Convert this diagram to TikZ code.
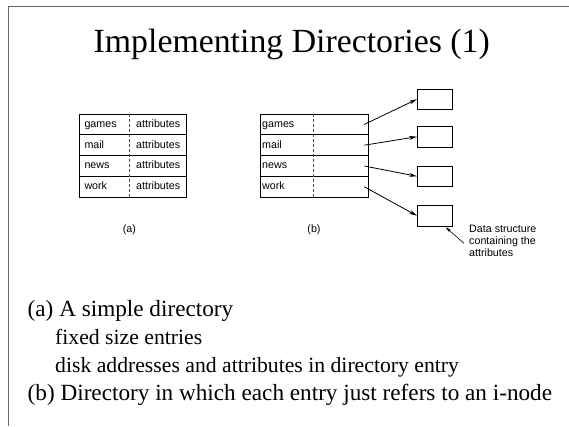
\documentclass[tikz,border=0pt]{standalone}
\usepackage{fontspec}
\setmainfont{Liberation Serif}
\newfontfamily\diagfont{Liberation Sans}
\usetikzlibrary{arrows.meta,positioning}
\begin{document}
\begin{tikzpicture}[x=1pt,y=-1pt,
  frameline/.style={draw=black!60,line width=1.6pt},
  rowbox/.style={draw,line width=0.9pt,minimum width=107.7pt,minimum height=20.8pt,inner sep=0pt,outer sep=0pt},
  attrbox/.style={draw,line width=0.8pt,minimum width=34.7pt,minimum height=20.5pt,inner sep=0pt},
  sep/.style={draw=black!70,dashed,dash pattern=on 3pt off 2pt,line width=0.6pt},
  celltext/.style={font=\diagfont\fontsize{10.7}{12}\selectfont,anchor=west,inner sep=0pt,text height=7.8pt,text depth=2.2pt},
  ptr/.style={line width=0.8pt,-{Stealth[length=8pt,width=4pt]}},
  heading/.style={font=\fontsize{33.8}{38}\selectfont,anchor=base,inner sep=0pt},
  mainline/.style={font=\fontsize{23.2}{26}\selectfont,anchor=base west,inner sep=0pt},
  subline/.style={font=\fontsize{21.7}{24}\selectfont,anchor=base west,inner sep=0pt}]
\useasboundingbox (0,0) rectangle (569,426);

% slide frame: top and left edges only
\draw[frameline] (8.3,426) -- (8.3,6.3) -- (569,6.3);

\node[heading] (title) at (291.7,52.7) {Implementing Directories (1)};

% (a) directory: names with their attributes
\foreach \i/\n/\y in {1/games/124.4,2/mail/145.2,3/news/166,4/work/186.8}{
  \node[rowbox] (a\i) at (132.85,\y) {};
  \node[celltext] (an\i) at (84.3,\y) {\n};
  \node[celltext] (at\i) at (136,\y) {attributes};
}
\draw[sep] (a1.north -| 129.3,0) -- (a4.south -| 129.3,0);
\node[font=\diagfont\fontsize{10.7}{12}\selectfont] (capa) at (129.3,229.3) {(a)};

% (b) directory: names with pointers to i-nodes
\foreach \i/\n/\y in {1/games/124.4,2/mail/145.2,3/news/166,4/work/186.8}{
  \node[rowbox] (b\i) at (314.2,\y) {};
  \node[celltext] (bn\i) at (262,\y) {\n};
  \coordinate (s\i) at (364.3,\y);
}
\draw[sep] (b1.north -| 313.3,0) -- (b4.south -| 313.3,0);
\node[font=\diagfont\fontsize{10.7}{12}\selectfont] (capb) at (314,229.3) {(b)};

% i-node structures
\node[attrbox] (d1) at (434.7,99.2) {};
\node[attrbox] (d2) at (434.7,136.7) {};
\node[attrbox] (d3) at (434.7,176.3) {};
\node[attrbox] (d4) at (434.7,215.7) {};

\draw[ptr] (s1) -- (d1.west);
\draw[ptr] (s2) -- (d2.west);
\draw[ptr] (s3) -- (d3.west);
\draw[ptr] (s4) -- (d4.west);

\node[font=\diagfont\fontsize{10.7}{12.2}\selectfont,align=left,anchor=north west,inner sep=0pt] (note) at (469,224.5)
  {Data structure\\containing the\\attributes};
\coordinate (notetip) at (445.7,227.3);
\coordinate (notetail) at (464,243.3);
\draw[line width=0.6pt,-{Stealth[length=6pt,width=3pt]}] (notetail) -- (notetip);

% explanatory text
\node[mainline] (l1) at (27.5,316) {(a) A simple directory};
\node[subline] (l2) at (55,344) {fixed size entries};
\node[subline] (l3) at (55,372.7) {disk addresses and attributes in directory entry};
\node[mainline] (l4) at (27.5,400.5) {(b) Directory in which each entry just refers to an i-node};
\end{tikzpicture}
\end{document}
